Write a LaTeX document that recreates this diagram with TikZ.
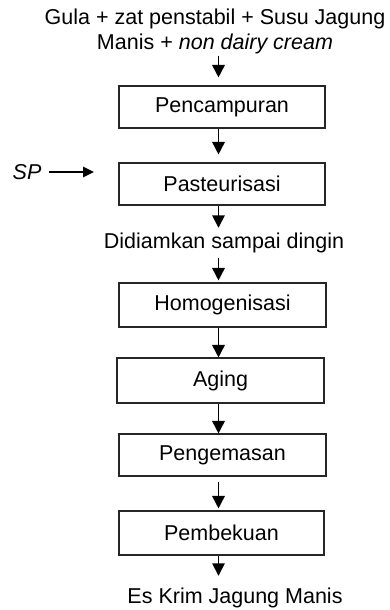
\documentclass[tikz,border=0pt]{standalone}
\usepackage{fontspec}
\setmainfont{Liberation Sans}
\usetikzlibrary{arrows.meta}
\begin{document}
\begin{tikzpicture}[x=1pt,y=-1pt,
  every node/.style={font=\fontsize{21.5}{25}\selectfont},
  box/.style={draw=black!85,line width=1.1pt,minimum width=206pt,minimum height=42pt,inner sep=0pt},
  lbl/.style={inner sep=0pt,align=center},
  arr/.style={line width=1.7pt,-{Triangle[width=12.5pt,length=12.5pt]}}]
\useasboundingbox (0,0) rectangle (390,610);
\node[lbl] (src) at (215,31) {Gula + zat penstabil + Susu Jagung\\Manis + \textit{non dairy cream}};
\node[box] (b1) at (222,107) {Pencampuran};
\node[box] (b2) at (222,184) {Pasteurisasi};
\node[lbl] (mid) at (224,243) {Didiamkan sampai dingin};
\node[box,minimum width=207pt,minimum height=44pt] (b3) at (222.5,305) {Homogenisasi};
\node[box,minimum width=207pt,minimum height=45pt] (b4) at (220.5,380.5) {Aging};
\node[box,minimum width=207pt] (b5) at (222.5,455) {Pengemasan};
\node[box,minimum width=205pt,minimum height=44pt] (b6) at (221.5,533) {Pembekuan};
\node[lbl] (out) at (235,598) {Es Krim Jagung Manis};
\node[lbl] (sp) at (27,172) {\textit{SP}};
\coordinate (spend) at (94,172);
\coordinate (ax) at (218.5,0);
\draw[arr] ([yshift=-2pt]src.south -| ax) -- ([yshift=8pt]b1.north -| ax);
\draw[arr] (b1.south -| ax) -- ([yshift=8pt]b2.north -| ax);
\draw[arr] (b2.south -| ax) -- ([yshift=5pt]mid.north -| ax);
\draw[arr] ([yshift=-5pt]mid.south -| ax) -- ([yshift=2pt]b3.north -| ax);
\draw[arr] (b3.south -| ax) -- (b4.north -| ax);
\draw[arr] (b4.south -| ax) -- (b5.north -| ax);
\draw[arr] ([yshift=-5pt]b5.south -| ax) -- ([yshift=2pt]b6.north -| ax);
\draw[arr] (b6.south -| ax) -- ([yshift=12pt]out.north -| ax);
\draw[arr,-{Triangle[width=10.5pt,length=11pt]}] ([xshift=7pt]sp.east) -- (spend);
\end{tikzpicture}
\end{document}
